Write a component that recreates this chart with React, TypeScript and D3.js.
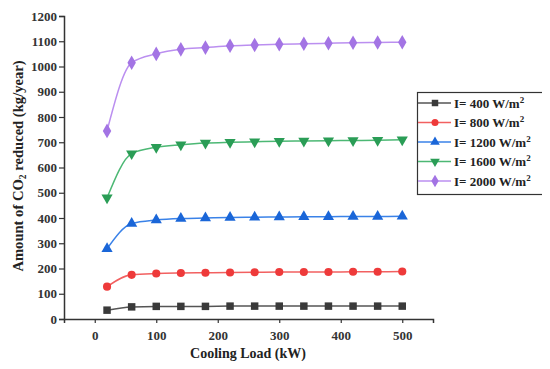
import React, { useEffect, useRef } from 'react';
import * as d3 from 'd3';

const loads = [20, 60, 100, 140, 180, 220, 260, 300, 340, 380, 420, 460, 500];
const i400 = [35, 48, 50, 50, 50, 51, 51, 51, 51, 51, 51, 51, 51];
const i800 = [128, 175, 180, 182, 183, 184, 185, 186, 186, 186, 187, 187, 188];
const i1200 = [278, 378, 392, 398, 400, 402, 403, 404, 405, 405, 406, 406, 407];
const i1600 = [480, 655, 680, 690, 697, 700, 702, 704, 705, 706, 707, 708, 710];
const i2000 = [745, 1015, 1050, 1068, 1075, 1082, 1085, 1088, 1090, 1092, 1094, 1095, 1096];
const seriesNames = ['I= 400 W/m', 'I= 800 W/m', 'I= 1200 W/m', 'I= 1600 W/m', 'I= 2000 W/m'];
const yTicks = [0, 100, 200, 300, 400, 500, 600, 700, 800, 900, 1000, 1100, 1200];
const xTicks = [0, 100, 200, 300, 400, 500];

const series = [
  { name: seriesNames[0], values: i400, line: '#555555', fill: '#3a3a3a', symbol: d3.symbolSquare, size: 56 },
  { name: seriesNames[1], values: i800, line: '#f26060', fill: '#ee3a3a', symbol: d3.symbolCircle, size: 52 },
  { name: seriesNames[2], values: i1200, line: '#3a82e8', fill: '#1a66d8', symbol: d3.symbolTriangle, size: 54 },
  { name: seriesNames[3], values: i1600, line: '#4cb874', fill: '#2a9d56', symbol: d3.symbolTriangle, size: 54, flip: true },
  { name: seriesNames[4], values: i2000, line: '#bb8ff0', fill: '#a374e4', symbol: d3.symbolDiamond, size: 62 },
];

const FONT = '"Liberation Serif", "Times New Roman", serif';

export default function App() {
  const ref = useRef<SVGSVGElement>(null);

  useEffect(() => {
    if (!ref.current) return;
    const svg = d3.select(ref.current);
    svg.selectAll('*').remove();

    const x = d3.scaleLinear().domain([-50, 550]).range([64, 433]);
    const y = d3.scaleLinear().domain([0, 1200]).range([319, 16]);

    // axes
    const xAxis = svg.append('g').attr('transform', 'translate(0,319)');
    xAxis.call(d3.axisBottom(x).tickValues(d3.range(-50, 551, 50)).tickSize(3).tickFormat(() => ''));
    xAxis.call(d3.axisBottom(x).tickValues(xTicks).tickSize(4).tickFormat(d3.format('d')));
    xAxis.selectAll('.domain').attr('stroke', '#333').attr('stroke-width', 1.5);
    xAxis.selectAll('.tick line').attr('stroke', '#333').attr('stroke-width', 1.2);
    xAxis.selectAll('text').attr('font-family', FONT).attr('font-weight', 'bold').attr('font-size', 13).attr('fill', '#333').attr('dy', '1.1em');

    const yAxis = svg.append('g').attr('transform', 'translate(64,0)');
    yAxis.call(d3.axisLeft(y).tickValues(d3.range(0, 1201, 50)).tickSize(3).tickFormat(() => ''));
    yAxis.call(d3.axisLeft(y).tickValues(yTicks).tickSize(5).tickFormat(d3.format('d')));
    yAxis.selectAll('.domain').attr('stroke', '#333').attr('stroke-width', 1.5);
    yAxis.selectAll('.tick line').attr('stroke', '#333').attr('stroke-width', 1.2);
    yAxis.selectAll('text').attr('font-family', FONT).attr('font-weight', 'bold').attr('font-size', 13).attr('fill', '#333').attr('x', -7);

    const line = d3.line<number>()
      .x((_, i) => x(loads[i]))
      .y(d => y(d))
      .curve(d3.curveMonotoneX);

    series.forEach(s => {
      svg.append('path')
        .datum(s.values)
        .attr('fill', 'none')
        .attr('stroke', s.line)
        .attr('stroke-width', 1.5)
        .attr('d', line);
      svg.append('g').selectAll('path')
        .data(s.values)
        .join('path')
        .attr('d', d3.symbol(s.symbol, s.size)())
        .attr('transform', (d, i) => `translate(${x(loads[i])},${y(d)})${s.flip ? ' rotate(180)' : ''}`)
        .attr('fill', s.fill);
    });

    // axis titles
    svg.append('text')
      .attr('x', 248).attr('y', 358)
      .attr('text-anchor', 'middle')
      .attr('font-family', FONT).attr('font-weight', 'bold').attr('font-size', 14).attr('fill', '#222')
      .text('Cooling Load (kW)');

    const yt = svg.append('text')
      .attr('transform', 'translate(23,166) rotate(-90)')
      .attr('text-anchor', 'middle')
      .attr('font-family', FONT).attr('font-weight', 'bold').attr('font-size', 14.6).attr('fill', '#222');
    yt.append('tspan').text('Amount of CO');
    yt.append('tspan').attr('font-size', 9.5).attr('dy', 3).text('2');
    yt.append('tspan').attr('dy', -3).text(' reduced (kg/year)');

    // legend
    const lg = svg.append('g');
    lg.append('rect').attr('x', 417.5).attr('y', 92.5).attr('width', 126).attr('height', 102)
      .attr('fill', 'white').attr('stroke', '#333').attr('stroke-width', 1.2);
    series.forEach((s, i) => {
      const cy = 103 + i * 19.5;
      lg.append('line').attr('x1', 418).attr('x2', 451).attr('y1', cy).attr('y2', cy)
        .attr('stroke', s.line).attr('stroke-width', 1.5);
      lg.append('path').attr('d', d3.symbol(s.symbol, s.size * 0.75)())
        .attr('transform', `translate(435,${cy})${s.flip ? ' rotate(180)' : ''}`)
        .attr('fill', s.fill);
      const t = lg.append('text').attr('x', 454).attr('y', cy + 4.5)
        .attr('font-family', FONT).attr('font-weight', 'bold').attr('font-size', 13).attr('fill', '#222');
      t.append('tspan').text(s.name);
      t.append('tspan').attr('font-size', 9).attr('dy', -5).text('2');
    });
  }, []);

  return (
    <div style={{ width: 550, height: 369, margin: -8 }}>
      <svg ref={ref} width={550} height={369} style={{ display: 'block', background: '#fff' }} />
    </div>
  );
}
